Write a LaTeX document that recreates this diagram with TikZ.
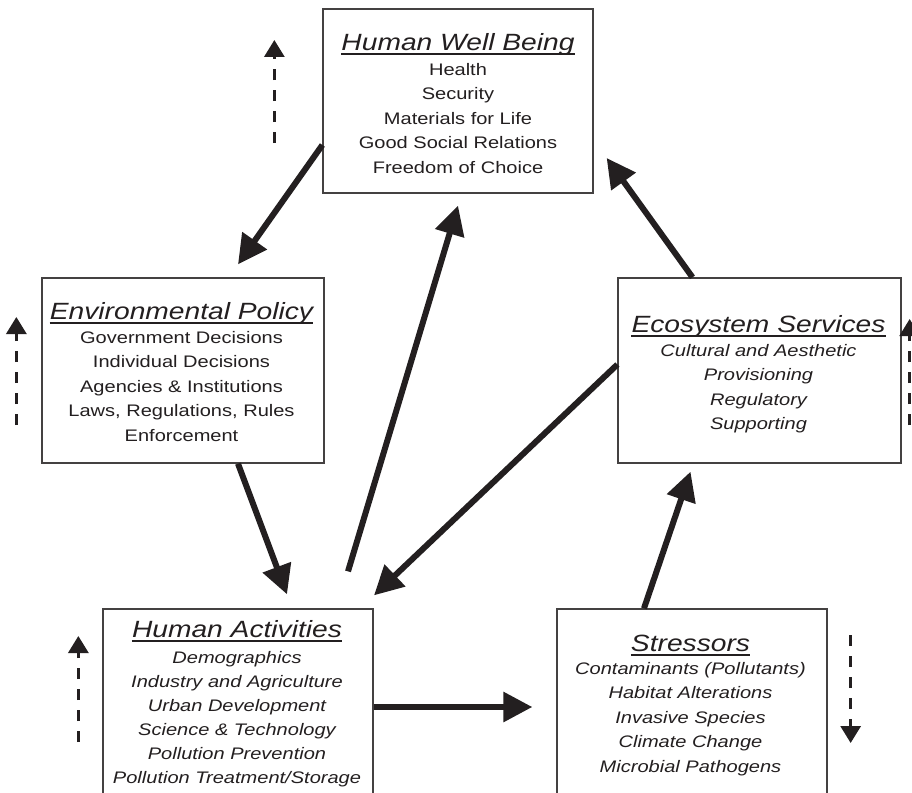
\documentclass[tikz,border=0pt]{standalone}
\usepackage{fontspec}
\setmainfont{Liberation Sans}[FakeStretch=1.2]
\usetikzlibrary{arrows.meta,calc}
\definecolor{ink}{HTML}{231F20}
\begin{document}
\begin{tikzpicture}[x=1pt,y=-1pt,
  box/.style={draw=ink!85, line width=1.3pt, inner sep=0pt},
  ttl/.style={inner sep=0pt, anchor=base, text=ink, font=\fontsize{23.5}{28}\selectfont\itshape},
  itm/.style={inner sep=0pt, anchor=base, text=ink, font=\fontsize{16.7}{20}\selectfont},
  itmi/.style={inner sep=0pt, anchor=base, text=ink, font=\fontsize{16.7}{20}\selectfont\itshape},
  uline/.style={draw=ink, line width=2pt},
  flow/.style={draw=ink, line width=6pt, -{Triangle[length=29pt,width=29pt]}},
  dflow/.style={draw=ink, line width=3pt, dash pattern=on 11pt off 10pt, -{Triangle[length=17pt,width=20pt]}}]
\useasboundingbox (0,0) rectangle (912,792);
\fill[white] (0,0) rectangle (912,792);
\clip (0,0) rectangle (912,792);

% boxes
\node[box, minimum width=270pt, minimum height=184pt] (hwb) at (458,101) {};
\node[box, minimum width=282pt, minimum height=185pt] (ep) at (183,370.5) {};
\node[box, minimum width=283pt, minimum height=185pt] (es) at (759.5,370.5) {};
\node[box, minimum width=270pt, minimum height=211pt] (ha) at (238,714.5) {};
\node[box, minimum width=270pt, minimum height=211pt] (str) at (692,714.5) {};

% Human Well Being
\node[ttl] (hwbT) at ($(hwb.north)+(0,42)$) {Human Well Being};
\draw[uline] ($(hwbT.base west)+(0,3.5)$) -- ($(hwbT.base east)+(0,3.5)$);
\foreach \t [count=\i] in {Health,Security,Materials for Life,Good Social Relations,Freedom of Choice}
  \node[itm] (hwb-\i) at ($(hwbT.base)+(0,{25+(\i-1)*24.5})$) {\t};

% Environmental Policy
\node[ttl] (epT) at ($(ep.north)+(-1.5,42)$) {Environmental Policy};
\draw[uline] ($(epT.base west)+(0,3.5)$) -- ($(epT.base east)+(0,3.5)$);
\foreach \t [count=\i] in {Government Decisions,Individual Decisions,Agencies \& Institutions,{Laws, Regulations, Rules},Enforcement}
  \node[itm] (ep-\i) at ($(epT.base)+(0,{24+(\i-1)*24.5})$) {\t};

% Ecosystem Services
\node[ttl] (esT) at ($(es.north)+(-1,55)$) {Ecosystem Services};
\draw[uline] ($(esT.base west)+(0,3.5)$) -- ($(esT.base east)+(0,3.5)$);
\foreach \t [count=\i] in {Cultural and Aesthetic,Provisioning,Regulatory,Supporting}
  \node[itmi] (es-\i) at ($(esT.base)+(0,{24+(\i-1)*24.5})$) {\t};

% Human Activities
\node[ttl] (haT) at ($(ha.north)+(-1,29)$) {Human Activities};
\draw[uline] ($(haT.base west)+(0,3.5)$) -- ($(haT.base east)+(0,3.5)$);
\foreach \t [count=\i] in {Demographics,Industry and Agriculture,Urban Development,Science \& Technology,Pollution Prevention,Pollution Treatment/Storage}
  \node[itmi] (ha-\i) at ($(haT.base)+(0,{26+(\i-1)*24})$) {\t};

% Stressors
\node[ttl] (strT) at ($(str.north)+(-1.5,43)$) {Stressors};
\draw[uline] ($(strT.base west)+(0,3.5)$) -- ($(strT.base east)+(0,3.5)$);
\foreach \t [count=\i] in {Contaminants (Pollutants),Habitat Alterations,Invasive Species,Climate Change,Microbial Pathogens}
  \node[itmi] (str-\i) at ($(strT.base)+(0,{23+(\i-1)*24.5})$) {\t};

% main arrows
\draw[flow] ($(hwb.west)+(0,44)$) -- ($(ep.north)+(55,-13)$);
\draw[flow] ($(ep.south)+(55,0)$) -- ($(ha.north)+(49,-14)$);
\draw[flow] ($(ha.north)+(110,-37)$) -- ($(hwb.south)+(0,12)$);
\draw[flow] ($(es.west)+(0,-6)$) -- ($(ha.north)+(136,-13)$);
\draw[flow] ($(es.north)+(-67,0)$) -- ($(hwb.east)+(13,57)$);
\draw[flow] ($(str.north)+(-48,0)$) -- ($(es.south)+(-69,8)$);
\draw[flow] ($(ha.east)+(0,-7.5)$) -- ($(str.west)+(-24,-7.5)$);

% dashed trend arrows
\coordinate (d1a) at ($(hwb.west)+(-48,42)$);
\coordinate (d1b) at ($(hwb.west)+(-48,-61)$);
\coordinate (d2a) at ($(ep.west)+(-25,54.5)$);
\coordinate (d2b) at ($(ep.west)+(-25,-53.5)$);
\coordinate (d3a) at ($(es.east)+(8,54.5)$);
\coordinate (d3b) at ($(es.east)+(8,-51.5)$);
\coordinate (d4a) at ($(ha.west)+(-24,27.5)$);
\coordinate (d4b) at ($(ha.west)+(-24,-78.5)$);
\coordinate (d5a) at ($(str.east)+(23,-79.5)$);
\coordinate (d5b) at ($(str.east)+(23,28.5)$);
\draw[dflow] (d1a) -- (d1b);
\draw[dflow] (d2a) -- (d2b);
\draw[dflow] (d3a) -- (d3b);
\draw[dflow] (d4a) -- (d4b);
\draw[dflow] (d5a) -- (d5b);
\end{tikzpicture}
\end{document}
